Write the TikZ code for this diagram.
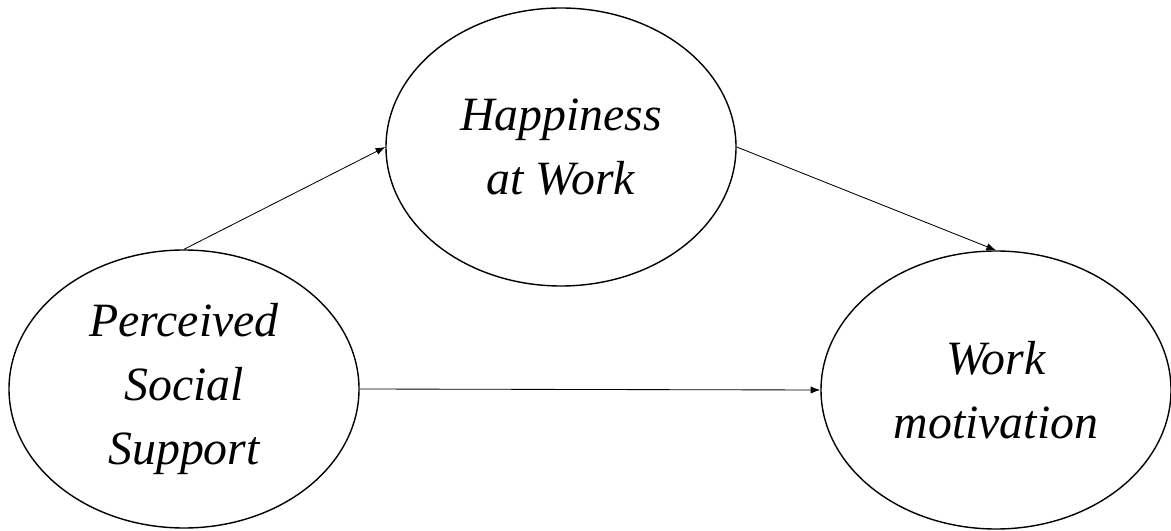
\documentclass[tikz,border=0pt]{standalone}
\usepackage{fontspec}
\setmainfont{Liberation Serif}
\usetikzlibrary{shapes.geometric,arrows.meta}
\begin{document}
\begin{tikzpicture}
  [every node/.style={ellipse,draw=black,line width=1pt,inner sep=0pt,minimum width=8.75cm,minimum height=6.95cm,align=center,font=\fontsize{34}{45.5}\selectfont\itshape}]
  \useasboundingbox (0,0) rectangle (29.275,13.25);
  % Constructs of the model
  \node (ps) at (4.6,3.525) {Perceived\\Social\\Support};
  \node (hw) at (14.025,9.575) {Happiness\\at Work};
  \node (wm) at (24.9,3.5) {Work\\motivation};

  % Paths between the constructs
  \foreach \from/\to in {ps.north/hw.west, hw.east/wm.north, ps.east/wm.west}
    \draw[line width=0.6pt,-{Latex[length=2.4mm,width=1.8mm]}] (\from) -- (\to);
\end{tikzpicture}
\end{document}
